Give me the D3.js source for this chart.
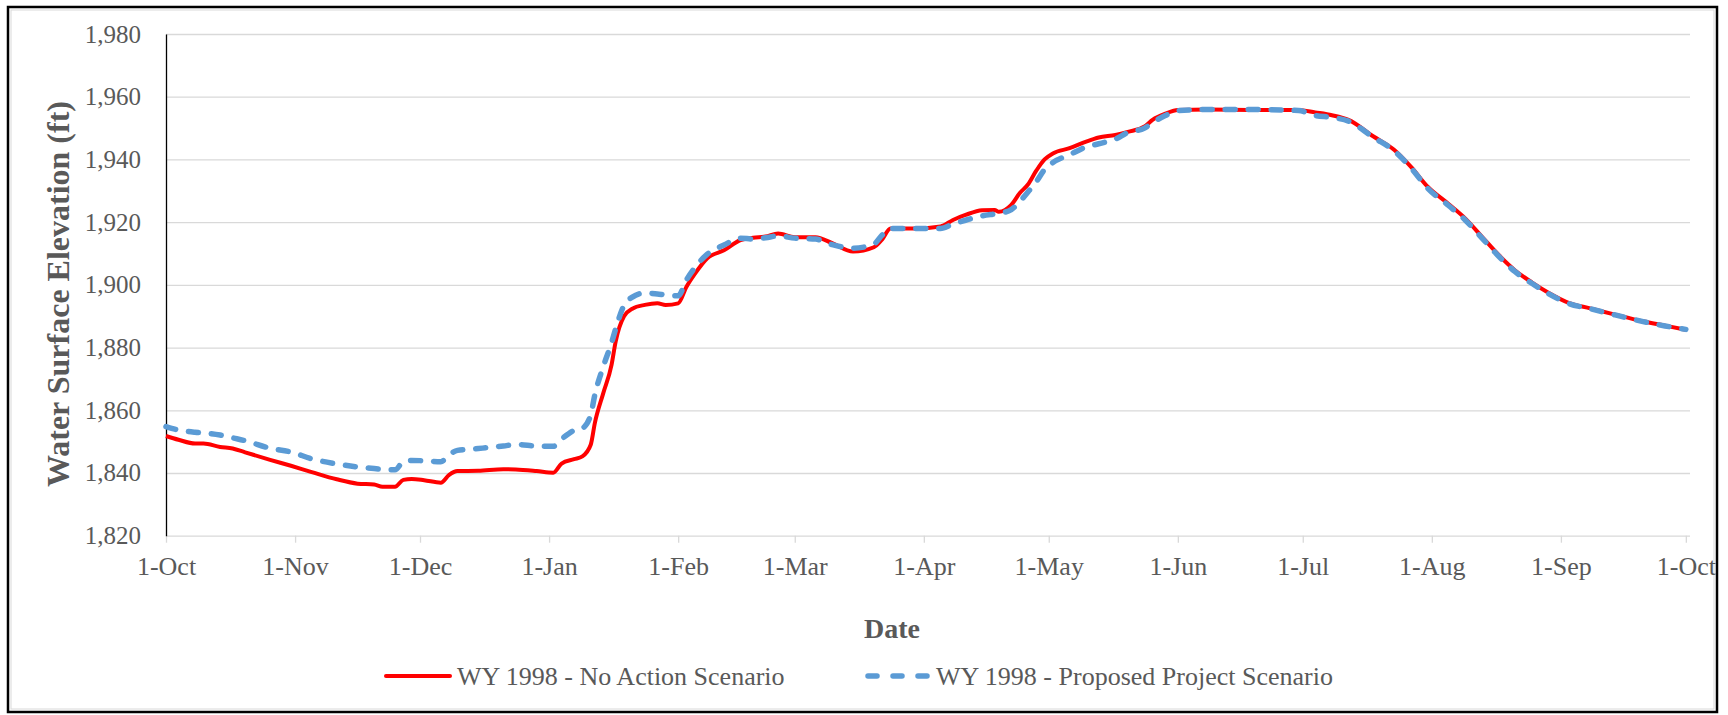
<!DOCTYPE html>
<html>
<head>
<meta charset="utf-8">
<script src="https://cdn.jsdelivr.net/npm/d3@7"></script>
<style>
  body { margin: 0; background: #fff; }
</style>
</head>
<body>
<svg id="chart" width="1728" height="715"></svg>
<script>
// dates of the readings (WY 1998)
var dates = ['1997-10-01','1997-10-04','1997-10-08','1997-10-10','1997-10-14','1997-10-17','1997-10-20','1997-10-26','1997-10-31',
  '1997-11-05','1997-11-11','1997-11-16','1997-11-20','1997-11-22','1997-11-25','1997-11-27','1997-11-29',
  '1997-12-02','1997-12-06','1997-12-08','1997-12-10','1997-12-15','1997-12-21','1997-12-24','1997-12-29',
  '1998-01-02','1998-01-04','1998-01-07','1998-01-09','1998-01-11','1998-01-12','1998-01-14','1998-01-16','1998-01-17','1998-01-19','1998-01-21','1998-01-24','1998-01-27','1998-01-29',
  '1998-02-01','1998-02-03','1998-02-05','1998-02-08','1998-02-12','1998-02-16','1998-02-19','1998-02-22','1998-02-25',
  '1998-03-01','1998-03-06','1998-03-10','1998-03-15','1998-03-20','1998-03-22','1998-03-24','1998-03-30',
  '1998-04-05','1998-04-08','1998-04-11','1998-04-15','1998-04-18','1998-04-19','1998-04-22','1998-04-24','1998-04-26','1998-04-28','1998-04-30',
  '1998-05-02','1998-05-06','1998-05-10','1998-05-13','1998-05-17','1998-05-20','1998-05-24','1998-05-26','1998-05-29',
  '1998-06-01','1998-06-08','1998-06-18','1998-06-30',
  '1998-07-04','1998-07-08','1998-07-12','1998-07-18','1998-07-23','1998-07-27','1998-07-31',
  '1998-08-05','1998-08-09','1998-08-13','1998-08-17','1998-08-21','1998-08-25','1998-08-29',
  '1998-09-03','1998-09-08','1998-09-14','1998-09-21','1998-09-26','1998-10-01'];

var noAction = [1851.8,1850.6,1849.4,1849.4,1848.3,1847.8,1846.6,1844.2,1842.3,
  1840.3,1838.0,1836.6,1836.3,1835.6,1835.6,1837.8,1838.1,
  1837.7,1836.9,1839.4,1840.6,1840.7,1841.2,1841.1,1840.6,
  1840.1,1843.0,1844.4,1845.3,1849.0,1856.0,1865.4,1874.5,1882.0,1890.0,1892.4,1893.6,1894.1,1893.6,
  1894.1,1899.4,1903.5,1908.5,1911.0,1914.3,1915.0,1915.4,1916.4,
  1915.2,1915.2,1913.3,1910.6,1912.0,1914.5,1918.0,1918.0,
  1918.6,1920.7,1922.3,1923.8,1923.9,1923.3,1925.5,1929.2,1932.0,1936.4,1940.0,
  1941.9,1943.6,1945.7,1947.0,1947.8,1948.8,1950.5,1952.7,1954.6,
  1955.8,1955.9,1955.8,1955.8,
  1955.0,1954.1,1952.6,1947.3,1943.0,1937.6,1931.3,
  1925.8,1921.2,1915.4,1909.6,1904.6,1900.8,1897.5,
  1894.2,1892.5,1890.5,1888.3,1887.0,1885.7];

var proposed = [1854.8,1853.7,1853.0,1852.8,1852.1,1851.2,1850.3,1847.9,1846.7,
  1844.5,1842.9,1841.9,1841.4,1841.2,1841.0,1843.6,1844.0,
  1843.9,1843.6,1845.8,1847.2,1847.8,1848.6,1849.1,1848.6,
  1848.5,1850.8,1853.6,1854.3,1858.5,1865.0,1873.9,1881.5,1886.0,1893.5,1896.1,1897.4,1897.1,1896.8,
  1896.5,1901.6,1905.5,1909.8,1912.7,1914.9,1914.6,1915.0,1915.6,
  1914.9,1914.6,1912.8,1911.7,1913.0,1915.9,1918.0,1918.0,
  1918.0,1919.4,1920.6,1922.0,1922.6,1922.8,1924.0,1926.5,1929.6,1932.9,1936.8,
  1939.0,1941.5,1944.0,1945.0,1946.5,1948.6,1950.0,1951.8,1954.0,
  1955.6,1955.9,1955.9,1955.6,
  1954.0,1953.4,1952.2,1947.0,1942.7,1937.3,1930.8,
  1925.3,1920.7,1915.0,1909.2,1904.2,1900.5,1897.2,
  1894.0,1892.4,1890.4,1888.2,1886.9,1885.8];

var yTicks = [1820,1840,1860,1880,1900,1920,1940,1960,1980];
var seriesNames = ['WY 1998 - No Action Scenario','WY 1998 - Proposed Project Scenario'];

var FONT = '"Liberation Serif", "DejaVu Serif", serif';
var parseDate = d3.utcParse('%Y-%m-%d');
var svg = d3.select('#chart').attr('font-family', FONT);

// outer frame
svg.append('rect').attr('x',8).attr('y',7).attr('width',1709).attr('height',705)
   .attr('fill','none').attr('stroke','#000').attr('stroke-width',2.5);
svg.append('rect').attr('x',11).attr('y',10).attr('width',1703).attr('height',699)
   .attr('fill','none').attr('stroke','#d9d9d9').attr('stroke-width',1);

var x_scale = d3.scaleUtc()
    .domain([parseDate('1997-10-01'), parseDate('1998-10-02')])
    .range([166, 1690]);
var y_scale = d3.scaleLinear().domain([1820,1980]).range([535.7,34]);

// gridlines
svg.append('g').attr('class','grid')
   .attr('transform','translate(166,0)')
   .call(d3.axisLeft(y_scale).tickValues(yTicks).tickSize(-(1690-166)).tickFormat(''))
   .call(g => g.select('.domain').remove())
   .call(g => g.selectAll('line').attr('stroke','#d9d9d9').attr('stroke-width',1.3));

// x axis
var monthTicks = d3.utcMonth.range(parseDate('1997-10-01'), parseDate('1998-10-02'));
svg.append('g').attr('class','x_axis')
   .attr('transform','translate(0,535.7)')
   .call(d3.axisBottom(x_scale).tickValues(monthTicks).tickSize(7).tickPadding(14).tickFormat(d3.utcFormat('%-d-%b')))
   .attr('font-family', FONT).attr('font-size', 26)
   .call(g => g.select('.domain').remove())
   .call(g => g.selectAll('line').attr('stroke','#d9d9d9').attr('stroke-width',1.3))
   .call(g => g.selectAll('text').attr('fill','#595959'));

// y axis
svg.append('g').attr('class','y_axis')
   .attr('transform','translate(166,0)')
   .call(d3.axisLeft(y_scale).tickValues(yTicks).tickSize(0).tickPadding(25).tickFormat(d3.format(',')))
   .attr('font-family', FONT).attr('font-size', 25)
   .call(g => g.select('.domain').attr('stroke','#000').attr('stroke-width',1.3))
   .call(g => g.selectAll('text').attr('fill','#595959'));

// lines
var line = d3.line()
    .x(function(d){ return x_scale(d.date); })
    .y(function(d){ return y_scale(d.value); })
    .curve(d3.curveMonotoneX);

var redData = dates.map(function(d,i){ return {date: parseDate(d), value: noAction[i]}; });
var blueData = dates.map(function(d,i){ return {date: parseDate(d), value: proposed[i]}; });

svg.append('path').datum(redData).attr('d',line)
   .attr('fill','none').attr('stroke','#ff0000').attr('stroke-width',4)
   .attr('stroke-linejoin','round');
svg.append('path').datum(blueData).attr('d',line)
   .attr('fill','none').attr('stroke','#5b9bd5').attr('stroke-width',5.5)
   .attr('stroke-dasharray','10,13').attr('stroke-linecap','round')
   .attr('stroke-linejoin','round');

// axis titles
svg.append('text').attr('x',892).attr('y',638).attr('text-anchor','middle')
   .attr('fill','#595959').attr('font-size',28).attr('font-weight','bold').text('Date');
svg.append('text').attr('transform','translate(69,294) rotate(-90)').attr('text-anchor','middle')
   .attr('fill','#595959').attr('font-size',32).attr('font-weight','bold').text('Water Surface Elevation (ft)');

// legend
var legend = svg.append('g').attr('class','legend');
legend.append('line').attr('x1',386).attr('x2',450).attr('y1',676).attr('y2',676)
   .attr('stroke','#ff0000').attr('stroke-width',4).attr('stroke-linecap','round');
legend.append('text').attr('x',457).attr('y',685).attr('fill','#595959').attr('font-size',26).text(seriesNames[0]);
legend.append('line').attr('x1',868).attr('x2',927).attr('y1',676).attr('y2',676)
   .attr('stroke','#5b9bd5').attr('stroke-width',5.5).attr('stroke-dasharray','9,16').attr('stroke-linecap','round');
legend.append('text').attr('x',936).attr('y',685).attr('fill','#595959').attr('font-size',26).text(seriesNames[1]);
</script>
</body>
</html>
